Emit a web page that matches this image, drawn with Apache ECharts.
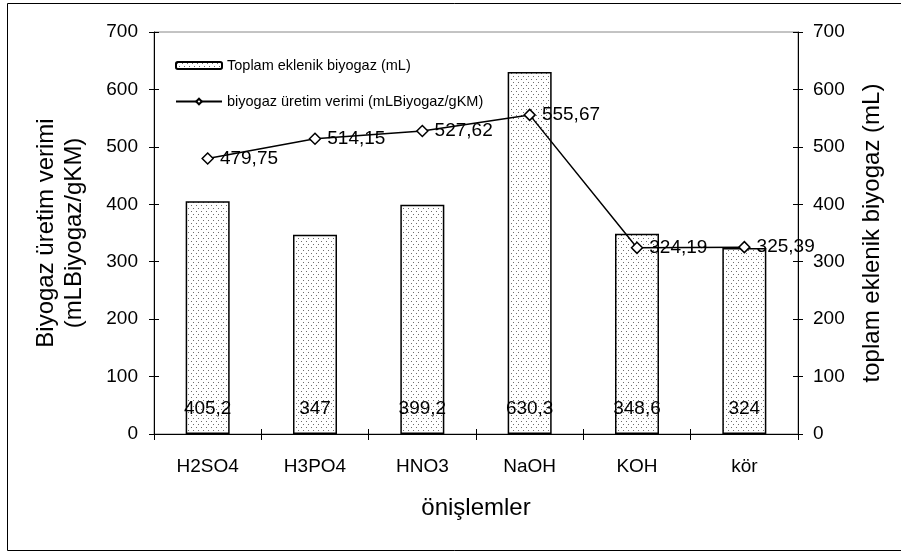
<!DOCTYPE html>
<html>
<head>
<meta charset="utf-8">
<style>
  html, body { margin: 0; padding: 0; background: #fff; }
  #chart { width: 901px; height: 554px; }
</style>
<script src="https://cdn.jsdelivr.net/npm/echarts@6/dist/echarts.min.js"></script>
</head>
<body>
<div id="chart"></div>
<script>
// Pretreatments compared
const categories = ['H2SO4', 'H3PO4', 'HNO3', 'NaOH', 'KOH', 'kör'];
// Cumulative biogas (mL) - bars, right axis
const cumulativeBiogas = [405.2, 347, 399.2, 630.3, 348.6, 324];
// Biogas yield (mL biogas / g KM) - line, left axis
const biogasYield = [479.75, 514.15, 527.62, 555.67, 324.19, 325.39];
// Shared value-axis ticks
const axisTicks = [0, 100, 200, 300, 400, 500, 600, 700];

const FONT = '"Liberation Sans", Arial, sans-serif';
const fmt = v => String(v).replace('.', ',');

// Staggered dotted fill used for the bars
function dotPattern() {
  const c = document.createElement('canvas');
  c.width = 5; c.height = 6;
  const g = c.getContext('2d');
  g.fillStyle = '#ffffff';
  g.fillRect(0, 0, 5, 6);
  g.fillStyle = '#6e6e6e';
  g.fillRect(1, 1, 1, 1);
  g.fillRect(3, 4, 1, 1);
  return c;
}

const chart = echarts.init(document.getElementById('chart'), null, { renderer: 'canvas' });

const yMin = axisTicks[0];
const yMax = axisTicks[axisTicks.length - 1];
const yStep = axisTicks[1] - axisTicks[0];

const valueAxisBase = {
  type: 'value',
  min: yMin,
  max: yMax,
  interval: yStep,
  splitLine: { show: false },
  axisLine: { show: true, lineStyle: { color: '#000', width: 1 } },
  axisTick: { show: true, length: 5, lineStyle: { color: '#000' } },
  axisLabel: { color: '#000', fontSize: 19, fontFamily: FONT, margin: 16 },
  nameLocation: 'middle',
  nameTextStyle: { color: '#000', fontSize: 24, fontFamily: FONT, lineHeight: 28 }
};

const innerTicks = {
  axisLine: { show: false },
  axisTick: { show: true, inside: true, length: 5, lineStyle: { color: '#000' } },
  axisLabel: { show: false },
  name: ''
};

chart.setOption({
  animation: false,
  backgroundColor: '#fff',
  grid: {
    left: 154, right: 103, top: 32, bottom: 120,
    show: true, borderColor: '#888', borderWidth: 1, backgroundColor: 'transparent'
  },
  graphic: [{
    type: 'rect',
    shape: { x: 7.5, y: 3.5, width: 900, height: 547 },
    style: { fill: 'none', stroke: '#000', lineWidth: 1 },
    silent: true
  }],
  legend: {
    orient: 'vertical',
    left: 170,
    top: 53,
    itemGap: 21,
    itemWidth: 46,
    itemHeight: 7,
    textStyle: { color: '#000', fontSize: 14.5, fontFamily: FONT },
    data: ['Toplam eklenik biyogaz (mL)', 'biyogaz üretim verimi (mLBiyogaz/gKM)']
  },
  xAxis: [{
    type: 'category',
    data: categories,
    boundaryGap: true,
    name: 'önişlemler',
    nameLocation: 'middle',
    nameGap: 62,
    nameTextStyle: { color: '#000', fontSize: 24, fontFamily: FONT },
    axisLine: { lineStyle: { color: '#000', width: 1 } },
    axisTick: { show: true, length: 6, alignWithLabel: false, lineStyle: { color: '#000' } },
    axisLabel: { color: '#000', fontSize: 19, fontFamily: FONT, margin: 23 },
    splitLine: { show: false }
  }, {
    // upper half of the crossing category ticks
    type: 'category',
    data: categories,
    position: 'bottom',
    axisLine: { show: false },
    axisTick: { show: true, inside: true, length: 5, lineStyle: { color: '#000' } },
    axisLabel: { show: false },
    splitLine: { show: false }
  }],
  yAxis: [
    Object.assign({}, valueAxisBase, {
      position: 'left',
      name: 'Biyogaz üretim verimi\n(mLBiyogaz/gKM)',
      nameGap: 66
    }),
    Object.assign({}, valueAxisBase, {
      position: 'right',
      name: 'toplam eklenik biyogaz (mL)',
      nameGap: 60,
      nameRotate: 90,
      axisLabel: { color: '#000', fontSize: 19, fontFamily: FONT, margin: 15 }
    }),
    // inner halves of the crossing value ticks
    Object.assign({}, valueAxisBase, { position: 'left' }, innerTicks),
    Object.assign({}, valueAxisBase, { position: 'right' }, innerTicks)
  ],
  series: [{
    name: 'Toplam eklenik biyogaz (mL)',
    type: 'bar',
    yAxisIndex: 1,
    data: cumulativeBiogas,
    barWidth: 44,
    itemStyle: {
      color: { image: dotPattern(), repeat: 'repeat' },
      borderColor: '#000',
      borderWidth: 1.5
    },
    label: {
      show: true,
      position: 'insideBottom',
      distance: 16,
      color: '#000',
      fontSize: 19,
      fontFamily: FONT,
      formatter: p => fmt(p.value)
    },
    z: 2
  }, {
    name: 'biyogaz üretim verimi (mLBiyogaz/gKM)',
    type: 'line',
    yAxisIndex: 0,
    data: biogasYield,
    symbol: 'diamond',
    symbolSize: 11,
    lineStyle: { color: '#000', width: 1.5 },
    itemStyle: { color: '#fff', borderColor: '#000', borderWidth: 1.5 },
    label: {
      show: true,
      position: 'right',
      distance: 6,
      color: '#000',
      fontSize: 19,
      fontFamily: FONT,
      formatter: p => fmt(p.value)
    },
    z: 3
  }]
});
</script>
</body>
</html>
